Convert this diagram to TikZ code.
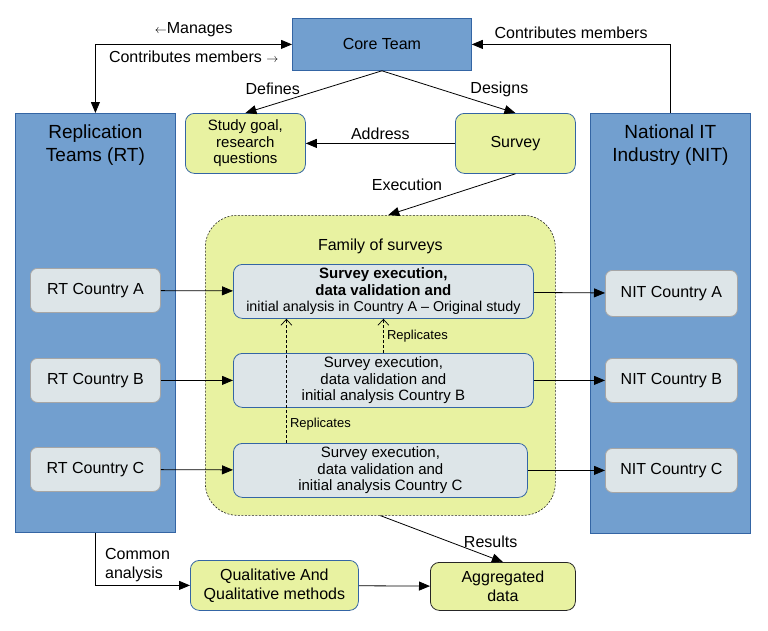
\documentclass[tikz,border=0pt]{standalone}
\usepackage{fontspec}
\setmainfont{Liberation Sans}
\usetikzlibrary{arrows.meta}
\definecolor{teamblue}{HTML}{729FCF}
\definecolor{edgeblue}{HTML}{3465A4}
\definecolor{lime}{HTML}{E8F2A1}
\definecolor{pale}{HTML}{DDE5E8}

\begin{document}
\begin{tikzpicture}[x=1pt,y=-1pt,line width=.8pt,font=\fontsize{16}{19}\selectfont,
  >={Triangle[length=11pt,width=9pt]},
  big/.style={draw=edgeblue,fill=teamblue,anchor=north west,inner sep=0pt},
  soft/.style={draw=edgeblue,fill=lime,rounded corners=9pt,anchor=north west,align=center,inner sep=0pt},
  run/.style={draw=edgeblue,fill=pale,rounded corners=9pt,anchor=north west,align=center,inner sep=0pt,
    font=\fontsize{15}{16.5}\selectfont},
  ctry/.style={draw=gray!70,fill=pale,rounded corners=7pt,anchor=north west,minimum width=130pt,
    minimum height=44pt,inner sep=0pt},
  rep/.style={dash pattern=on 3pt off 2pt,line width=.7pt,->,>={Straight Barb[length=6pt,width=11pt]}}]
  \useasboundingbox (0,0) rectangle (768,630);
  \node[big,minimum width=179pt,minimum height=52pt] (core) at (292,18) {Core Team};
  \node[big,minimum width=160pt,minimum height=419pt,label={[anchor=north,yshift=-8pt,align=center,
    font=\fontsize{19}{23}\selectfont]north:{Replication\\Teams (RT)}}] (rt) at (15,113) {};
  \node[big,minimum width=160pt,minimum height=420pt,label={[anchor=north,yshift=-8pt,align=center,
    font=\fontsize{19}{23}\selectfont]north:{National IT\\Industry (NIT)}}] (nit) at (590,113) {};
  \node[soft,minimum width=120pt,minimum height=60pt,font=\fontsize{15}{16.5}\selectfont] (goal) at (185,113)
    {Study goal,\\research\\questions};
  \node[soft,minimum width=120pt,minimum height=60pt] (survey) at (455,113) {Survey};
  \node[soft,draw=black!85,dash pattern=on 2pt off 1.5pt,line width=.6pt,rounded corners=32pt,
    minimum width=350pt,minimum height=300pt,label={[anchor=north,yshift=-20pt]north:Family of surveys}]
    (family) at (205,215) {};
  % surveys per country
  \node[run,minimum width=300pt,minimum height=54pt] (runA) at (233,264)
    {\bfseries Survey execution,\\\bfseries data validation and\\
    {\fontsize{14.3}{15}\selectfont initial analysis in Country A -- Original study}};
  \node[run,minimum width=300pt,minimum height=54pt] (runB) at (233,353)
    {Survey execution,\\data validation and\\initial analysis Country B};
  \node[run,minimum width=294pt,minimum height=54pt] (runC) at (233,443)
    {Survey execution,\\data validation and\\initial analysis Country C};
  \node[ctry] (rtA) at (30,268) {RT Country A};
  \node[ctry] (rtB) at (30,358) {RT Country B};
  \node[ctry] (rtC) at (30,447) {RT Country C};
  \node[ctry,minimum width=132pt,minimum height=46pt] (nitA) at (605,270) {NIT Country A};
  \node[ctry,minimum width=132pt] (nitB) at (605,358) {NIT Country B};
  \node[ctry,minimum width=132pt] (nitC) at (605,448) {NIT Country C};
  \node[soft,minimum width=168pt,minimum height=50pt] (qual) at (190,560) {Qualitative And\\Qualitative methods};
  \node[soft,draw=black!85,minimum width=145pt,minimum height=48pt] (agg) at (430,562) {Aggregated\\data};
  % connectors
  \draw[<->] (rt.north) |- (core.west)
    node[pos=.75,above=4pt]{{\fontsize{12}{14}\selectfont$\leftarrow$}Manages}
    node[pos=.75,below=3pt]{Contributes members {\fontsize{12}{14}\selectfont$\rightarrow$}};
  \draw[->] (nit.north) |- (core.east) node[pos=.75,above=2pt]{Contributes members};
  \draw[->] (core.south) -- (goal.north) node[pos=.8,above=6pt]{Defines};
  \draw[->] (core.south) -- (survey.north) node[pos=.88,above=7pt]{Designs};
  \draw[->] (survey) -- (goal) node[midway,above]{Address};
  \draw[->] (survey.south) -- ([xshift=8pt]family.north) node[pos=.5,above left,xshift=-6pt]{Execution};
  \foreach \c in {A,B,C} {\draw[->] (rt\c) -- (run\c); \draw[->] (run\c) -- (nit\c);}
  \draw[rep] (runB.north) -- (runA.south) node[midway,right,font=\fontsize{13}{15}\selectfont]{Replicates};
  \draw[rep] ([xshift=-94pt]runC.north) -- ([xshift=-97pt]runA.south)
    node[pos=.15,right,font=\fontsize{13}{15}\selectfont]{Replicates};
  \draw[->] (family.south) -- (agg.north) node[pos=.9,above=6pt]{Results};
  \draw[->] (rt.south) |- (qual.west) node[pos=.5,above right,xshift=6pt,align=left]{Common\\analysis};
  \draw[->] (qual) -- (agg);
\end{tikzpicture}
\end{document}
